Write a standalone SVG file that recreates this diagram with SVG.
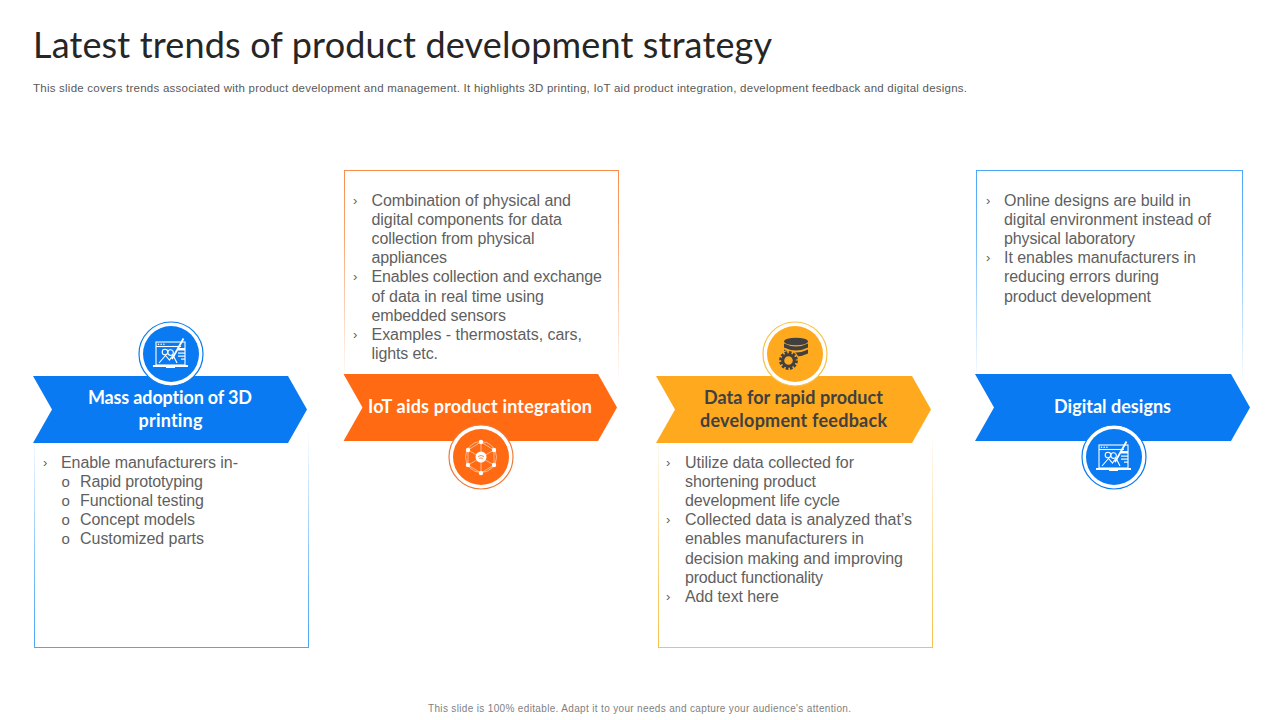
<svg xmlns="http://www.w3.org/2000/svg" xmlns:xlink="http://www.w3.org/1999/xlink" width="1280" height="720" viewBox="0 0 1280 720">
<style>
.title{font:36px Lato,"Open Sans",sans-serif;fill:#262626}
.sub{font:11.5px "Liberation Sans",Arial,sans-serif;fill:#595959}
.foot{font:10px "Liberation Sans",Arial,sans-serif;fill:#7f7f7f}
.b{font:16px "Liberation Sans",Arial,sans-serif;fill:#5f5f5f}
.m{font:13px "Liberation Sans",Arial,sans-serif;fill:#5f5f5f}
.o{font:15px "Liberation Sans",Arial,sans-serif;fill:#5f5f5f}
.h{font:bold 18px Lato,sans-serif;text-anchor:middle;font-variant-ligatures:none}
.w{fill:#fff}.d{fill:#404040}
.ic{fill:none;stroke:#fff;stroke-width:1.1}
.net{fill:none;stroke:#ffd9c2;stroke-width:.7}
</style>
<defs>
<linearGradient id="blueUp" x1="0" y1="1" x2="0" y2="0"><stop offset="0" stop-color="#4ba6f5"/><stop offset=".3" stop-color="#4ba6f5" stop-opacity=".8"/><stop offset="1" stop-color="#4ba6f5" stop-opacity="0"/></linearGradient>
<linearGradient id="amberUp" x1="0" y1="1" x2="0" y2="0"><stop offset="0" stop-color="#f5c24d"/><stop offset=".3" stop-color="#f5c24d" stop-opacity=".8"/><stop offset="1" stop-color="#f5c24d" stop-opacity="0"/></linearGradient>
<linearGradient id="orangeDn" x1="0" y1="0" x2="0" y2="1"><stop offset="0" stop-color="#f78e4e"/><stop offset=".3" stop-color="#f78e4e" stop-opacity=".8"/><stop offset="1" stop-color="#f78e4e" stop-opacity="0"/></linearGradient>
<linearGradient id="blueDn" x1="0" y1="0" x2="0" y2="1"><stop offset="0" stop-color="#4ba6f5"/><stop offset=".3" stop-color="#4ba6f5" stop-opacity=".8"/><stop offset="1" stop-color="#4ba6f5" stop-opacity="0"/></linearGradient>
<g id="laptop">
<rect x="-15" y="-12" width="29" height="23" class="ic"/>
<path d="M-15 -7.500H10" class="ic"/>
<g fill="#fff"><circle cx="-12.500" cy="-9.800" r=".8"/><circle cx="-9.800" cy="-9.800" r=".8"/><circle cx="-7.100" cy="-9.800" r=".8"/></g>
<rect x="-18" y="11" width="35" height="2" fill="#fff"/>
<rect x="-5" y="13" width="9" height="1" fill="#fff"/>
<circle cx="-6" cy="-2" r="2.800" class="ic"/>
<path d="M-12 9 L-5.500 1.500 L-1.500 6 L2 1 L6 9" class="ic"/>
<path d="M1.500 -3.500 a2.800 2.800 0 1 0 .1 .1" class="ic"/>
<path d="M12.500 -15.500 L1 5" fill="none" stroke="#fff" stroke-width="1.800"/>
<rect x="7" y="-6" width="7" height="2.500" fill="#fff"/>
<rect x="7" y="-1.500" width="7" height="1.200" fill="#fff"/>
<rect x="7" y="1.500" width="7" height="1.200" fill="#fff"/>
<rect x="10" y="4.500" width="4" height="1.200" fill="#fff"/>
</g>
</defs>

<text class="title" x="33" y="58" textLength="739">Latest trends of product development strategy</text>
<text class="sub" x="33" y="92" textLength="934">This slide covers trends associated with product development and management. It highlights 3D printing, IoT aid product integration, development feedback and digital designs.</text>

<g id="node-3d">
<rect x="34" y="430" width="1" height="218" fill="url(#blueUp)"/>
<rect x="308" y="430" width="1" height="218" fill="url(#blueUp)"/>
<rect x="34" y="647" width="275" height="1" fill="#4ba6f5"/>
<path d="M33 376H288L307 409.500L288 443H33L52 409.500Z" fill="#0a7af2"/>
<circle cx="171" cy="354" r="32" fill="#fff" stroke="#0a7af2" stroke-width="1.200"/>
<circle cx="171" cy="354" r="28" fill="#0a7af2"/>
<use xlink:href="#laptop" href="#laptop" x="171" y="354"/>
<text class="h w" x="170" y="404" textLength="164">Mass adoption of 3D</text>
<text class="h w" x="170.500" y="427" textLength="64">printing</text>
<text class="m" x="43" y="467">›</text>
<text class="b" x="61" y="468" textLength="177">Enable manufacturers  in-</text>
<text class="o" x="61.500" y="487">o</text><text class="b" x="80" y="487" textLength="123">Rapid prototyping</text>
<text class="o" x="61.500" y="506">o</text><text class="b" x="80" y="506" textLength="124">Functional testing</text>
<text class="o" x="61.500" y="525">o</text><text class="b" x="80" y="525" textLength="115">Concept models</text>
<text class="o" x="61.500" y="544">o</text><text class="b" x="80" y="544" textLength="124">Customized parts</text>
</g>

<g id="node-iot">
<rect x="344" y="170" width="1" height="214" fill="url(#orangeDn)"/>
<rect x="618" y="170" width="1" height="214" fill="url(#orangeDn)"/>
<rect x="344" y="170" width="275" height="1" fill="#f78e4e"/>
<path d="M343.500 374H598L617 407.500L598 441H343.500L362.500 407.500Z" fill="#ff6a13"/>
<circle cx="481" cy="457" r="32" fill="#fff" stroke="#ee7a3a" stroke-width="1.200"/>
<circle cx="481" cy="457" r="28" fill="#ff6a13"/>
<circle cx="481" cy="457" r="15.500" class="net"/>
<path d="M481 442V472M468 450L494 465M494 450L468 465M481 442L494 450V465L481 473L468 465V450Z" class="net"/>
<circle cx="481" cy="457" r="5.500" fill="#fff"/>
<path d="M478 456.500Q481 454.500 484 456.500M479.300 458.500Q481 457.300 482.700 458.500" fill="none" stroke="#ff6a13" stroke-width=".8"/>
<g fill="#fff"><circle cx="481" cy="442" r="2.200"/><circle cx="481" cy="473" r="2.200"/><circle cx="468" cy="450" r="2.200"/><circle cx="494" cy="450" r="2.200"/><circle cx="468" cy="465" r="2.200"/><circle cx="494" cy="465" r="2.200"/></g>
<text class="h w" x="480" y="413" textLength="224">IoT aids product integration</text>
<text class="m" x="353" y="205">›</text>
<text class="b" x="371.500" y="206" textLength="199.500">Combination of physical and</text>
<text class="b" x="371.500" y="225" textLength="190.500">digital components for data</text>
<text class="b" x="371.500" y="244" textLength="163">collection from physical</text>
<text class="b" x="371.500" y="263" textLength="75.500">appliances</text>
<text class="m" x="353" y="281">›</text>
<text class="b" x="371.500" y="282" textLength="230.500">Enables collection and exchange</text>
<text class="b" x="371.500" y="302" textLength="172.500">of data in real time using</text>
<text class="b" x="371.500" y="321" textLength="134.500">embedded sensors</text>
<text class="m" x="353" y="339">›</text>
<text class="b" x="371.500" y="340" textLength="210.500">Examples - thermostats,  cars,</text>
<text class="b" x="371.500" y="359" textLength="66.500">lights etc.</text>
</g>

<g id="node-data">
<rect x="658" y="430" width="1" height="218" fill="url(#amberUp)"/>
<rect x="932" y="430" width="1" height="218" fill="url(#amberUp)"/>
<rect x="658" y="647" width="275" height="1" fill="#f5c24d"/>
<path d="M656 376H912L931 409.500L912 443H656L675 409.500Z" fill="#ffa91f"/>
<circle cx="795" cy="354" r="32" fill="#fff" stroke="#f5c24d" stroke-width="1.200"/>
<circle cx="795" cy="354" r="28" fill="#ffa91f"/>
<g class="d">
<ellipse cx="796" cy="341.500" rx="12" ry="3.800"/>
<path d="M784 343.500Q796 349.500 808 343.500V347.500Q796 353.500 784 347.500Z"/>
<path d="M784 349.500Q796 355.500 808 349.500V353.500Q796 359.500 784 353.500Z"/>
</g>
<circle cx="788.500" cy="360.500" r="10.500" fill="#ffa91f"/>
<circle cx="788.500" cy="360.500" r="5.800" fill="none" stroke="#404040" stroke-width="3"/>
<circle cx="788.500" cy="360.500" r="8" fill="none" stroke="#404040" stroke-width="2.800" stroke-dasharray="2.700 1.500"/>
<text class="h d" x="793.500" y="404" textLength="179">Data for rapid product</text>
<text class="h d" x="793.500" y="427" textLength="187">development feedback</text>
<text class="m" x="666" y="467">›</text>
<text class="b" x="685" y="468" textLength="169">Utilize data collected for</text>
<text class="b" x="685" y="487" textLength="131">shortening product</text>
<text class="b" x="685" y="506" textLength="155">development life cycle</text>
<text class="m" x="666" y="524">›</text>
<text class="b" x="685" y="525" textLength="227">Collected data is analyzed that’s</text>
<text class="b" x="685" y="544" textLength="179">enables manufacturers  in</text>
<text class="b" x="685" y="564" textLength="218">decision making and improving</text>
<text class="b" x="685" y="583" textLength="138">product functionality</text>
<text class="m" x="666" y="601">›</text>
<text class="b" x="685" y="602" textLength="94">Add text here</text>
</g>

<g id="node-digital">
<rect x="976" y="170" width="1" height="214" fill="url(#blueDn)"/>
<rect x="1242" y="170" width="1" height="214" fill="url(#blueDn)"/>
<rect x="976" y="170" width="267" height="1" fill="#4ba6f5"/>
<path d="M975 374H1231L1250 407.500L1231 441H975L994 407.500Z" fill="#0a7af2"/>
<circle cx="1114" cy="457" r="32" fill="#fff" stroke="#0a7af2" stroke-width="1.200"/>
<circle cx="1114" cy="457" r="28" fill="#0a7af2"/>
<use xlink:href="#laptop" href="#laptop" x="1114" y="457"/>
<text class="h w" x="1112.500" y="413" textLength="117">Digital designs</text>
<text class="m" x="986" y="205">›</text>
<text class="b" x="1004" y="206" textLength="187">Online designs are build in</text>
<text class="b" x="1004" y="225" textLength="207">digital environment  instead of</text>
<text class="b" x="1004" y="244" textLength="131">physical laboratory</text>
<text class="m" x="986" y="262">›</text>
<text class="b" x="1004" y="263" textLength="192">It enables manufacturers  in</text>
<text class="b" x="1004" y="282" textLength="155">reducing errors during</text>
<text class="b" x="1004" y="302" textLength="147">product development</text>
</g>

<text class="foot" x="428" y="712" textLength="423">This slide is 100% editable.  Adapt it to your needs and capture your audience's attention.</text>
</svg>
